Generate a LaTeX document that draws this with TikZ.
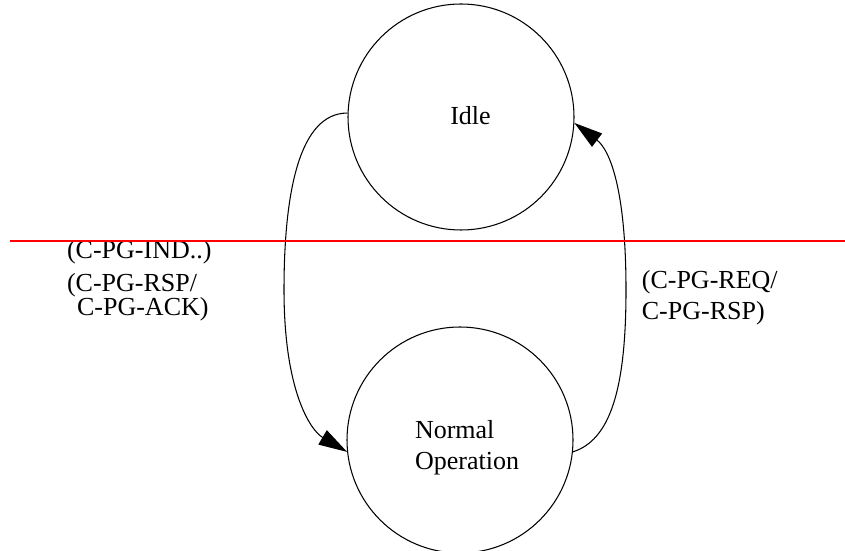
\documentclass[tikz,border=0pt]{standalone}
\usepackage{fontspec}
\setmainfont{Liberation Serif}
\usepackage{tikz}
\usetikzlibrary{shapes, arrows.meta}
\tikzstyle{state}=[draw, circle, minimum size=4.52cm, inner sep=0pt, line width=0.6pt]
\tikzstyle{msg}=[anchor=base west, inner sep=0pt, align=left]
\tikzstyle{trans}=[line width=0.6pt, -{Triangle[length=0.57cm, width=0.33cm]}]

\begin{document}
\begin{tikzpicture}[font=\fontsize{14.8}{17.6}\selectfont]
		\useasboundingbox (0,0) rectangle (16.9,11);
		\node[state, label={[xshift=0.19cm, yshift=0.02cm]center:Idle}] (idle) at (9.22,8.66) {};
		\node[state, label={[xshift=0.14cm, yshift=-0.15cm, align=left]center:Normal\\Operation}] (normal) at (9.20,2.20) {};
		\coordinate (lmid) at (5.68,5.20);
		\coordinate (rmid) at (12.52,5.20);
		\draw[trans](idle.178) .. controls (6.00,8.74) and (5.68,7.20) .. (lmid)
			.. controls (5.68,3.20) and (6.20,2.40) .. (normal.186);
		\draw[trans](normal.-6) .. controls (12.20,2.20) and (12.52,3.20) .. (rmid)
			.. controls (12.52,7.20) and (12.20,8.00) .. (idle.-3);
		%---------------------
		\node[msg] (ind) at (1.334,5.834) {(C-PG-IND..)};
		\node[msg] (rsp) at (1.334,4.68) {(C-PG-RSP/\\[-3.8pt]\hspace*{5.7pt}C-PG-ACK)};
		\node[msg] (req) at (12.83,4.614) {(C-PG-REQ/\\C-PG-RSP)};
		%---------------------
		\coordinate (cutL) at (0.2,6.18);
		\coordinate (cutR) at (16.9,6.18);
		\draw[red, line width=1.1pt](cutL)--(cutR);
	\end{tikzpicture}
\end{document}
